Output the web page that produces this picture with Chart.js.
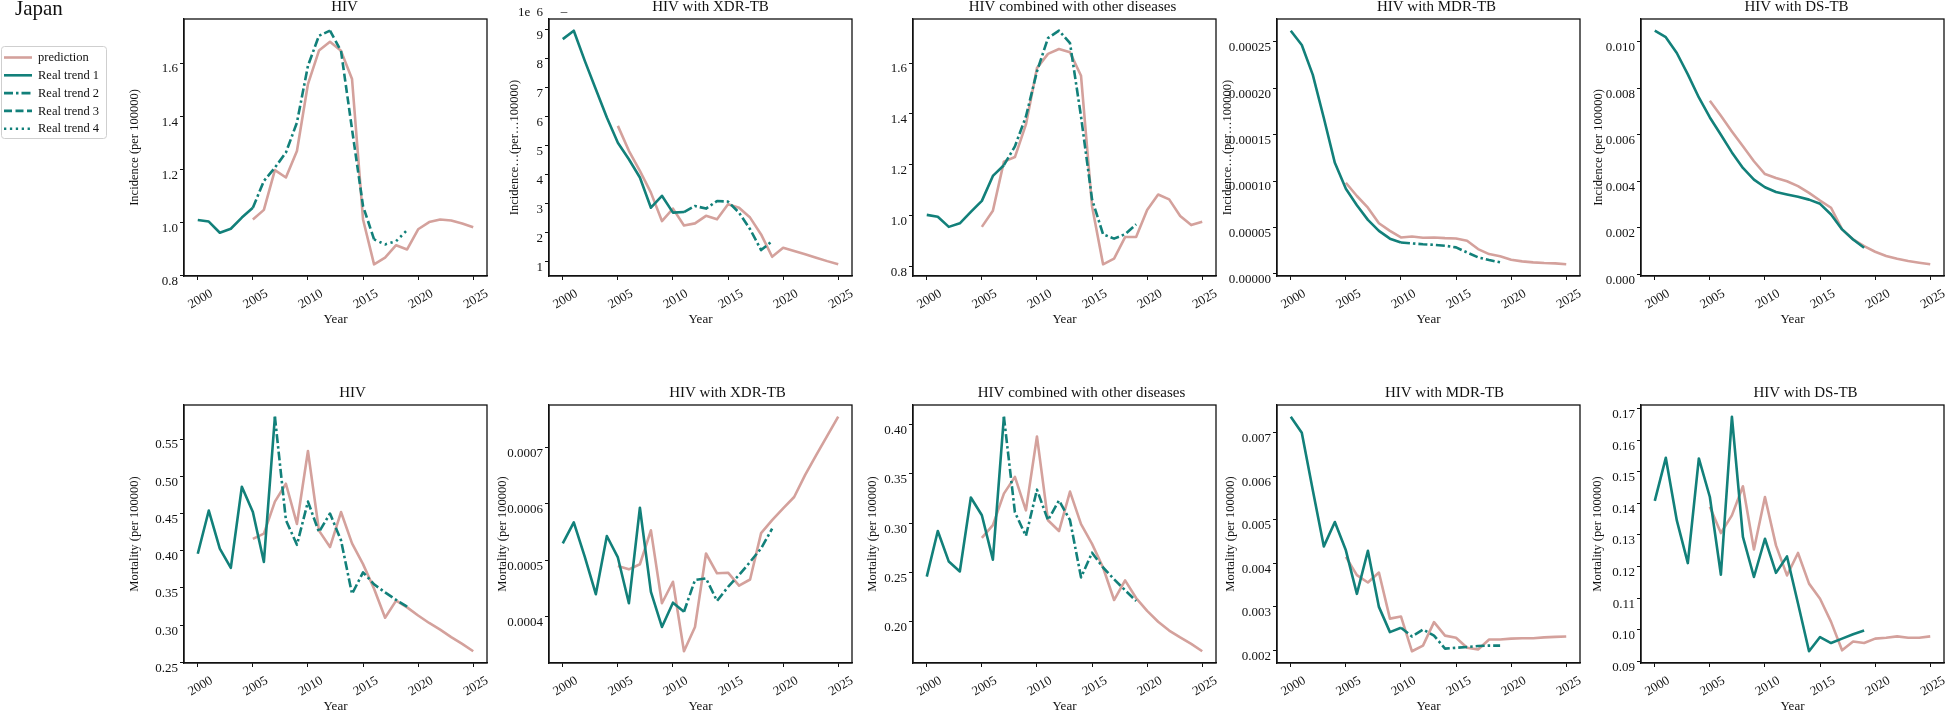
<!DOCTYPE html>
<html>
<head>
<meta charset="utf-8">
<script src="https://cdn.jsdelivr.net/npm/chart.js@4.4.1/dist/chart.umd.min.js"></script>
<style>
  body { margin: 0; background: #fff; width: 1945px; height: 710px; overflow: hidden; position: relative; }
  canvas { position: absolute; }
</style>
</head>
<body>
<script>
const years = [2000, 2001, 2002, 2003, 2004, 2005, 2006, 2007, 2008, 2009, 2010, 2011, 2012, 2013, 2014, 2015, 2016, 2017, 2018, 2019];
const predYears = [2005, 2006, 2007, 2008, 2009, 2010, 2011, 2012, 2013, 2014, 2015, 2016, 2017, 2018, 2019, 2020, 2021, 2022, 2023, 2024, 2025];
const yearTicks = [2000, 2005, 2010, 2015, 2020, 2025];
const legendLabels = ['prediction', 'Real trend 1', 'Real trend 2', 'Real trend 3', 'Real trend 4'];
const titles = ['HIV', 'HIV with XDR-TB', 'HIV combined with other diseases', 'HIV with MDR-TB', 'HIV with DS-TB'];

// incidence
const incHivReal = [1.009, 1.003, 0.961, 0.976, 1.018, 1.055, 1.156, 1.206, 1.263, 1.376, 1.59, 1.703, 1.722, 1.646, 1.351, 1.061, 0.936, 0.917, 0.929, 0.971];
const incHivPred = [1.011, 1.047, 1.197, 1.169, 1.269, 1.521, 1.647, 1.68, 1.646, 1.54, 1.011, 0.842, 0.867, 0.914, 0.898, 0.974, 1.001, 1.011, 1.007, 0.996, 0.982];
const incHivBreaks = [2000, 2005, 2012, 2016, 2019];

const incXdrReal = [8.68e-6, 8.97e-6, 7.93e-6, 6.95e-6, 5.98e-6, 5.11e-6, 4.54e-6, 3.91e-6, 2.87e-6, 3.28e-6, 2.70e-6, 2.72e-6, 2.93e-6, 2.84e-6, 3.10e-6, 3.08e-6, 2.70e-6, 2.13e-6, 1.41e-6, 1.72e-6];
const incXdrPred = [5.69e-6, 4.83e-6, 4.14e-6, 3.39e-6, 2.41e-6, 2.84e-6, 2.26e-6, 2.33e-6, 2.59e-6, 2.47e-6, 2.99e-6, 2.87e-6, 2.53e-6, 1.95e-6, 1.18e-6, 1.49e-6, 1.38e-6, 1.27e-6, 1.15e-6, 1.03e-6, 0.92e-6];
const incXdrBreaks = [2000, 2011, 2019];

const incComReal = [1.004, 0.997, 0.957, 0.971, 1.016, 1.059, 1.157, 1.199, 1.273, 1.39, 1.567, 1.698, 1.727, 1.678, 1.39, 1.065, 0.928, 0.911, 0.928, 0.967];
const incComPred = [0.957, 1.02, 1.213, 1.231, 1.359, 1.58, 1.636, 1.655, 1.642, 1.55, 1.038, 0.81, 0.832, 0.917, 0.917, 1.023, 1.084, 1.065, 1.0, 0.964, 0.977];
const incComBreaks = [2000, 2007, 2019];

const incMdrReal = [0.0002618, 0.0002464, 0.0002143, 0.0001679, 0.0001196, 0.0000918, 0.0000739, 0.0000582, 0.0000464, 0.000038, 0.0000339, 0.0000329, 0.000032, 0.0000314, 0.0000304, 0.0000286, 0.0000232, 0.0000179, 0.000015, 0.0000125];
const incMdrPred = [0.0000982, 0.0000839, 0.0000714, 0.0000546, 0.0000464, 0.0000393, 0.0000404, 0.000039, 0.0000393, 0.0000386, 0.0000382, 0.0000357, 0.0000268, 0.0000214, 0.000019, 0.0000154, 0.0000136, 0.0000125, 0.0000118, 0.0000114, 0.0000104];
const incMdrBreaks = [2000, 2010, 2019];

const incDsReal = [0.01047, 0.01019, 0.00951, 0.00859, 0.0076, 0.00674, 0.006, 0.00524, 0.00457, 0.00407, 0.00374, 0.00354, 0.00343, 0.00333, 0.00321, 0.00303, 0.00257, 0.00193, 0.0015, 0.00114];
const incDsPred = [0.00746, 0.00681, 0.00614, 0.0055, 0.00486, 0.00431, 0.00414, 0.004, 0.00379, 0.0035, 0.00317, 0.00286, 0.00193, 0.0015, 0.00121, 0.00097, 0.00079, 0.00067, 0.00057, 0.0005, 0.00043];
const incDsBreaks = [2000, 2019];

// mortality
const morHivReal = [0.396, 0.454, 0.403, 0.377, 0.486, 0.452, 0.385, 0.58, 0.441, 0.408, 0.466, 0.425, 0.45, 0.414, 0.342, 0.371, 0.355, 0.344, 0.334, 0.325];
const morHivPred = [0.416, 0.423, 0.466, 0.49, 0.436, 0.534, 0.427, 0.405, 0.452, 0.41, 0.382, 0.349, 0.31, 0.333, 0.324, 0.313, 0.303, 0.294, 0.284, 0.275, 0.265];
const morHivBreaks = [2000, 2007, 2019];

const morXdrReal = [0.00053, 0.000567, 0.000506, 0.00044, 0.000543, 0.000505, 0.000424, 0.000593, 0.000444, 0.000382, 0.000425, 0.000409, 0.000465, 0.000468, 0.000428, 0.000453, 0.000474, 0.000497, 0.000521, 0.000556];
const morXdrPred = [0.00049, 0.000484, 0.000493, 0.000553, 0.000424, 0.000462, 0.000339, 0.000382, 0.000512, 0.000477, 0.000478, 0.000455, 0.000466, 0.000548, 0.000571, 0.000592, 0.000612, 0.000651, 0.000686, 0.00072, 0.000754];
const morXdrBreaks = [2000, 2011, 2019];

const morComReal = [0.2458, 0.292, 0.261, 0.251, 0.326, 0.308, 0.263, 0.408, 0.311, 0.287, 0.334, 0.303, 0.323, 0.303, 0.245, 0.27, 0.255, 0.243, 0.232, 0.221];
const morComPred = [0.285, 0.298, 0.33, 0.347, 0.313, 0.388, 0.303, 0.292, 0.332, 0.299, 0.279, 0.255, 0.222, 0.242, 0.224, 0.211, 0.2, 0.191, 0.184, 0.1775, 0.17];
const morComBreaks = [2000, 2007, 2019];

const morMdrReal = [0.00737, 0.007, 0.00568, 0.00439, 0.00495, 0.0043, 0.0033, 0.00429, 0.003, 0.00242, 0.00252, 0.00232, 0.00248, 0.00234, 0.00204, 0.00206, 0.00208, 0.0021, 0.00211, 0.00211];
const morMdrPred = [0.00415, 0.00373, 0.00356, 0.00379, 0.00273, 0.00278, 0.00198, 0.00211, 0.00265, 0.00234, 0.00229, 0.00206, 0.00202, 0.00225, 0.00225, 0.00227, 0.00228, 0.00228, 0.0023, 0.00231, 0.00232];
const morMdrBreaks = [2000, 2010, 2019];

const morDsReal = [0.1408, 0.1544, 0.1346, 0.1211, 0.1542, 0.142, 0.1174, 0.1674, 0.1294, 0.1167, 0.1288, 0.118, 0.1232, 0.1083, 0.0932, 0.0977, 0.0958, 0.0972, 0.0986, 0.0998];
const morDsPred = [0.1389, 0.1306, 0.1362, 0.1454, 0.1254, 0.142, 0.1267, 0.1172, 0.1243, 0.1146, 0.1098, 0.1025, 0.0935, 0.0963, 0.0958, 0.0972, 0.0975, 0.0979, 0.0975, 0.0975, 0.0979];
const morDsBreaks = [2000, 2019];

// y ticks
const ticksIncHiv = [0.8, 1.0, 1.2, 1.4, 1.6];
const labelsIncHiv = ['0.8', '1.0', '1.2', '1.4', '1.6'];
const ticksIncXdr = [1e-6, 2e-6, 3e-6, 4e-6, 5e-6, 6e-6, 7e-6, 8e-6, 9e-6];
const labelsIncXdr = ['1', '2', '3', '4', '5', '6', '7', '8', '9'];
const ticksIncMdr = [0, 0.00005, 0.0001, 0.00015, 0.0002, 0.00025];
const labelsIncMdr = ['0.00000', '0.00005', '0.00010', '0.00015', '0.00020', '0.00025'];
const ticksIncDs = [0, 0.002, 0.004, 0.006, 0.008, 0.01];
const labelsIncDs = ['0.000', '0.002', '0.004', '0.006', '0.008', '0.010'];
const ticksMorHiv = [0.25, 0.3, 0.35, 0.4, 0.45, 0.5, 0.55];
const labelsMorHiv = ['0.25', '0.30', '0.35', '0.40', '0.45', '0.50', '0.55'];
const ticksMorXdr = [0.0004, 0.0005, 0.0006, 0.0007];
const labelsMorXdr = ['0.0004', '0.0005', '0.0006', '0.0007'];
const ticksMorCom = [0.2, 0.25, 0.3, 0.35, 0.4];
const labelsMorCom = ['0.20', '0.25', '0.30', '0.35', '0.40'];
const ticksMorMdr = [0.002, 0.003, 0.004, 0.005, 0.006, 0.007];
const labelsMorMdr = ['0.002', '0.003', '0.004', '0.005', '0.006', '0.007'];
const ticksMorDs = [0.09, 0.1, 0.11, 0.12, 0.13, 0.14, 0.15, 0.16, 0.17];
const labelsMorDs = ['0.09', '0.10', '0.11', '0.12', '0.13', '0.14', '0.15', '0.16', '0.17'];

const panels = [
  { real: incHivReal, pred: incHivPred, breaks: incHivBreaks, ticks: ticksIncHiv, labels: labelsIncHiv, yTitle: 'Incidence (per 100000)' },
  { real: incXdrReal, pred: incXdrPred, breaks: incXdrBreaks, ticks: ticksIncXdr, labels: labelsIncXdr, yTitle: 'Incidence…(per…100000)', offsetText: true },
  { real: incComReal, pred: incComPred, breaks: incComBreaks, ticks: ticksIncHiv, labels: labelsIncHiv, yTitle: '' },
  { real: incMdrReal, pred: incMdrPred, breaks: incMdrBreaks, ticks: ticksIncMdr, labels: labelsIncMdr, yTitle: 'Incidence…(per…100000)' },
  { real: incDsReal, pred: incDsPred, breaks: incDsBreaks, ticks: ticksIncDs, labels: labelsIncDs, yTitle: 'Incidence (per 100000)' },
  { real: morHivReal, pred: morHivPred, breaks: morHivBreaks, ticks: ticksMorHiv, labels: labelsMorHiv, yTitle: 'Mortality (per 100000)' },
  { real: morXdrReal, pred: morXdrPred, breaks: morXdrBreaks, ticks: ticksMorXdr, labels: labelsMorXdr, yTitle: 'Mortality (per 100000)' },
  { real: morComReal, pred: morComPred, breaks: morComBreaks, ticks: ticksMorCom, labels: labelsMorCom, yTitle: 'Mortality (per 100000)' },
  { real: morMdrReal, pred: morMdrPred, breaks: morMdrBreaks, ticks: ticksMorMdr, labels: labelsMorMdr, yTitle: 'Mortality (per 100000)' },
  { real: morDsReal, pred: morDsPred, breaks: morDsBreaks, ticks: ticksMorDs, labels: labelsMorDs, yTitle: 'Mortality (per 100000)' }
];

// layout (px)
const COL_LEFT = [184, 549, 913, 1277, 1641];
const ROW_TOP = [19, 405];
const PLOT_H = [257, 258];
const PLOT_W = 303;
const Y_W = 90, X_H = 50;
const TITLE_DX = [[9, 10, 8, 8, 4], [17, 27, 17, 16, 13]];
const YTITLE_DX = [[49, 34, 0, 49, 42], [49, 46, 40, 46, 43]];

const PINK = '#d4a19c';
const TEAL = '#12807a';
const DASHES = [[], [9, 3, 2.5, 3], [8, 3.5], [2.3, 3.6]];
const FONT = '"Liberation Serif", "Times New Roman", serif';
const INK = '#111';

Chart.defaults.font.family = FONT;

const decor = {
  id: 'decor',
  afterDraw(chart, args, o) {
    const { ctx, chartArea: a } = chart;
    ctx.save();
    ctx.strokeStyle = INK;
    ctx.lineWidth = 1.3;
    ctx.strokeRect(a.left, a.top, a.right - a.left, a.bottom - a.top);
    ctx.fillStyle = INK;
    ctx.textAlign = 'center';
    ctx.textBaseline = 'alphabetic';
    ctx.font = '15px ' + FONT;
    ctx.fillText(o.title, (a.left + a.right) / 2 + o.titleDx, a.top - 8);
    ctx.font = '13px ' + FONT;
    ctx.textBaseline = 'middle';
    ctx.fillText('Year', (a.left + a.right) / 2, a.bottom + 44);
    if (o.offsetText) {
      ctx.textAlign = 'left';
      ctx.fillText('1e', a.left - 31, a.top - 6);
      ctx.textAlign = 'right';
      ctx.fillText('6', a.left - 6, a.top - 6);
      ctx.textAlign = 'center';
      ctx.fillText('–', a.left + 15, a.top - 7);
    }
    if (o.yTitle) {
      ctx.font = '12.5px ' + FONT;
      ctx.translate(a.left - o.yTitleDx, (a.top + a.bottom) / 2);
      ctx.rotate(-Math.PI / 2);
      ctx.fillText(o.yTitle, 0, 0);
      ctx.setTransform(1, 0, 0, 1, 0, 0);
    }
    if (o.legend) {
      ctx.font = '21px ' + FONT;
      ctx.textAlign = 'left';
      ctx.textBaseline = 'alphabetic';
      ctx.fillText('Japan', 15, 15);
      // legend box
      ctx.strokeStyle = '#cfcfcf';
      ctx.lineWidth = 1;
      ctx.beginPath();
      ctx.roundRect(1.5, 46.5, 105, 92, 3);
      ctx.fillStyle = 'rgba(255,255,255,0.8)';
      ctx.fill();
      ctx.stroke();
      ctx.font = '12.5px ' + FONT;
      ctx.textBaseline = 'middle';
      legendLabels.forEach((lab, k) => {
        const ds = chart.data.datasets.find(d => d.label === lab);
        const y = 57.5 + k * 17.8;
        ctx.strokeStyle = ds.borderColor;
        ctx.lineWidth = ds.borderWidth;
        ctx.setLineDash(ds.borderDash || []);
        ctx.beginPath();
        ctx.moveTo(4, y);
        ctx.lineTo(32, y);
        ctx.stroke();
        ctx.setLineDash([]);
        ctx.fillStyle = INK;
        ctx.fillText(lab, 38, y + 0.5);
      });
    }
    ctx.restore();
  }
};

panels.forEach((p, i) => {
  const col = i % 5, row = Math.floor(i / 5);
  const plotLeft = COL_LEFT[col], plotTop = ROW_TOP[row], plotH = PLOT_H[row];
  const left = col === 0 ? 0 : plotLeft - Y_W - 6;
  const top = plotTop - 19;
  const cw = plotLeft + PLOT_W + 4 - left;
  const ch = 19 + plotH + X_H;
  const cv = document.createElement('canvas');
  cv.width = cw; cv.height = ch;
  cv.style.left = left + 'px'; cv.style.top = top + 'px';
  cv.style.width = cw + 'px'; cv.style.height = ch + 'px';
  document.body.appendChild(cv);

  const datasets = [];
  for (let k = 0; k < p.breaks.length - 1; k++) {
    const a = p.breaks[k], b = p.breaks[k + 1];
    datasets.push({
      label: 'Real trend ' + (k + 1),
      data: years.map((yr, j) => ({ x: yr, y: p.real[j] })).filter(d => d.x >= a && d.x <= b),
      borderColor: TEAL,
      borderDash: DASHES[k],
      borderWidth: 2.6
    });
  }
  datasets.push({
    label: 'prediction',
    data: predYears.map((yr, j) => ({ x: yr, y: p.pred[j] })),
    borderColor: PINK,
    borderWidth: 2.6
  });

  const all = p.real.concat(p.pred);
  const lo = Math.min(...all), hi = Math.max(...all);
  const m = (hi - lo) * 0.05;

  new Chart(cv, {
    type: 'line',
    data: { datasets },
    plugins: [decor],
    options: {
      responsive: false,
      animation: false,
      layout: { padding: { left: plotLeft - Y_W - left, top: 19, right: cw - (plotLeft - left) - PLOT_W, bottom: 0 } },
      elements: { point: { radius: 0 }, line: { tension: 0, borderJoinStyle: 'round', fill: false } },
      plugins: {
        legend: { display: false },
        tooltip: { enabled: false },
        decor: {
          title: titles[col],
          titleDx: TITLE_DX[row][col],
          yTitle: p.yTitle,
          yTitleDx: YTITLE_DX[row][col],
          offsetText: !!p.offsetText,
          legend: i === 0
        }
      },
      scales: {
        x: {
          type: 'linear',
          min: 1998.75,
          max: 2026.25,
          afterFit: s => { s.height = X_H; },
          afterBuildTicks: s => { s.ticks = yearTicks.map(v => ({ value: v })); },
          grid: { drawOnChartArea: false, tickLength: 4, color: INK },
          border: { color: INK, width: 1.3 },
          ticks: {
            minRotation: 30, maxRotation: 30, autoSkip: false,
            color: INK, font: { size: 13 }, padding: 6, labelOffset: 14,
            callback: v => String(v)
          }
        },
        y: {
          type: 'linear',
          min: lo - m,
          max: hi + m,
          afterFit: s => { s.width = Y_W; },
          afterBuildTicks: s => { s.ticks = p.ticks.map(v => ({ value: v })); },
          grid: { drawOnChartArea: false, tickLength: 4, color: INK },
          border: { color: INK, width: 1.3 },
          ticks: {
            autoSkip: false, color: INK, font: { size: 13 }, padding: 2, labelOffset: 6,
            callback: (v, idx) => p.labels[idx]
          }
        }
      }
    }
  });
});
</script>
</body>
</html>
